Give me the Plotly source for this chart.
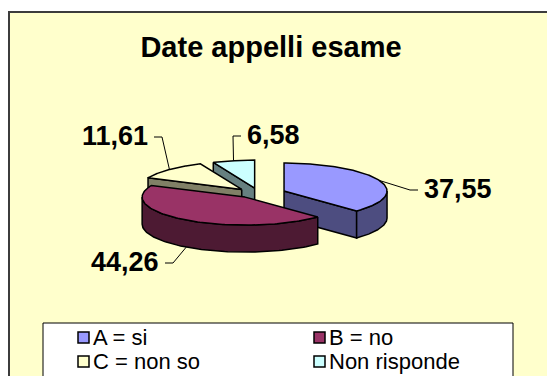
import numpy as np
import plotly.graph_objects as go

# ---- data -------------------------------------------------------------
categories = ["A = si", "B = no", "C = non so", "Non risponde"]
values = [37.55, 44.26, 11.61, 6.58]
title_text = "Date appelli esame"

# ---- styling ----------------------------------------------------------
top_colors = ["#9999FF", "#993366", "#FFFFCC", "#CCFFFF"]
side_colors = ["#4D4D80", "#4D1A33", "#808066", "#668080"]
FONT = "Liberation Sans, Arial, sans-serif"
W, H = 547, 376

# pie geometry (screen units, y grows downwards)
CX, CY = 260, 193          # pie centre
RX, RY = 103, 28           # ellipse radii of the tilted disc
DEPTH = 27                 # thickness of the disc
EX, EY = 26, 5             # explode offset (horizontal / vertical)

# label anchors: (x, y, side of the text that touches the leader)
label_anchor = [(422, 189, "left"), (161, 262, "right"),
                (150, 136, "right"), (245, 135, "left")]

fig = go.Figure()

total = float(sum(values))
bounds = np.concatenate([[0.0], np.cumsum(values) / total * 2 * np.pi])


def point(ax, ay, th, dz=0.0):
    return ax + RX * np.sin(th), ay - RY * np.cos(th) + dz


def add_poly(xs, ys, color):
    fig.add_trace(go.Scatter(
        x=list(xs), y=list(ys), mode="lines", fill="toself",
        fillcolor=color, line=dict(color="black", width=1.5),
        hoverinfo="skip", showlegend=False))


slices = []
for i, v in enumerate(values):
    t1, t2 = bounds[i], bounds[i + 1]
    tm = 0.5 * (t1 + t2)
    ax = CX + EX * np.sin(tm)
    ay = CY - EY * np.cos(tm)
    slices.append((ay, i, t1, t2, tm, ax))

# paint from back to front
for ay, i, t1, t2, tm, ax in sorted(slices):
    # radial side walls facing the viewer
    for th, visible in ((t1, np.sin(t1) < -1e-6), (t2, np.sin(t2) > 1e-6)):
        if visible:
            px, py = point(ax, ay, th)
            add_poly([ax, px, px, ax, ax],
                     [ay, py, py + DEPTH, ay + DEPTH, ay], side_colors[i])
    # curved outer wall on the front half
    lo, hi = max(t1, np.pi / 2), min(t2, 3 * np.pi / 2)
    if hi > lo:
        th = np.linspace(lo, hi, 80)
        tx, ty = point(ax, ay, th)
        bx, by = point(ax, ay, th[::-1], DEPTH)
        add_poly(np.r_[tx, bx, tx[:1]], np.r_[ty, by, ty[:1]], side_colors[i])
    # top face
    th = np.linspace(t1, t2, 120)
    tx, ty = point(ax, ay, th)
    add_poly(np.r_[ax, tx, ax], np.r_[ay, ty, ay], top_colors[i])

# value labels with leader lines
annotations = []
for ay, i, t1, t2, tm, ax in slices:
    front = np.cos(tm) < 0
    sx, sy = point(ax, ay, tm, DEPTH if front else 0.0)
    lx, ly, side = label_anchor[i]
    step = -1 if side == "left" else 1
    ex_, ey_ = lx + 4 * step, ly + 1
    kx = ex_ + 8 * step
    fig.add_trace(go.Scatter(
        x=[sx, kx, ex_], y=[sy, ey_, ey_], mode="lines",
        line=dict(color="black", width=1), hoverinfo="skip", showlegend=False))
    annotations.append(dict(
        x=lx, y=ly, xref="x", yref="y", showarrow=False,
        text=f"{values[i]:.2f}".replace(".", ","),
        xanchor=side, yanchor="middle",
        font=dict(family=FONT, size=27, color="black", weight="bold")))

# chart area and legend frame
shapes = [
    dict(type="rect", xref="x", yref="y", x0=9, y0=12, x1=W + 20, y1=H + 20,
         fillcolor="#FFFFCC", line=dict(color="#3C3C3C", width=2), layer="below"),
    dict(type="rect", xref="x", yref="y", x0=43, y0=323, x1=513, y1=H + 20,
         fillcolor="white", line=dict(color="black", width=1), layer="below"),
]
for i, name in enumerate(categories):
    col, row = i % 2, i // 2
    x0 = 78 + col * 236
    y0 = 332 + row * 24
    shapes.append(dict(type="rect", xref="x", yref="y", x0=x0, y0=y0,
                       x1=x0 + 11, y1=y0 + 11, fillcolor=top_colors[i],
                       line=dict(color="black", width=1.5)))
    annotations.append(dict(
        x=x0 + 13, y=y0 + 5.5, xref="x", yref="y", showarrow=False,
        text=name, xanchor="left", yanchor="middle",
        font=dict(family=FONT, size=22, color="black")))

fig.update_layout(
    width=W, height=H, margin=dict(l=0, r=0, t=0, b=0),
    paper_bgcolor="white", plot_bgcolor="rgba(0,0,0,0)",
    title=dict(text=title_text, x=271 / W, y=1 - 47 / H,
               xanchor="center", yanchor="middle",
               font=dict(family=FONT, size=29, color="black", weight="bold")),
    xaxis=dict(range=[0, W], visible=False, fixedrange=True),
    yaxis=dict(range=[H, 0], visible=False, fixedrange=True),
    shapes=shapes, annotations=annotations, showlegend=False,
)

fig.write_html("out.html")
